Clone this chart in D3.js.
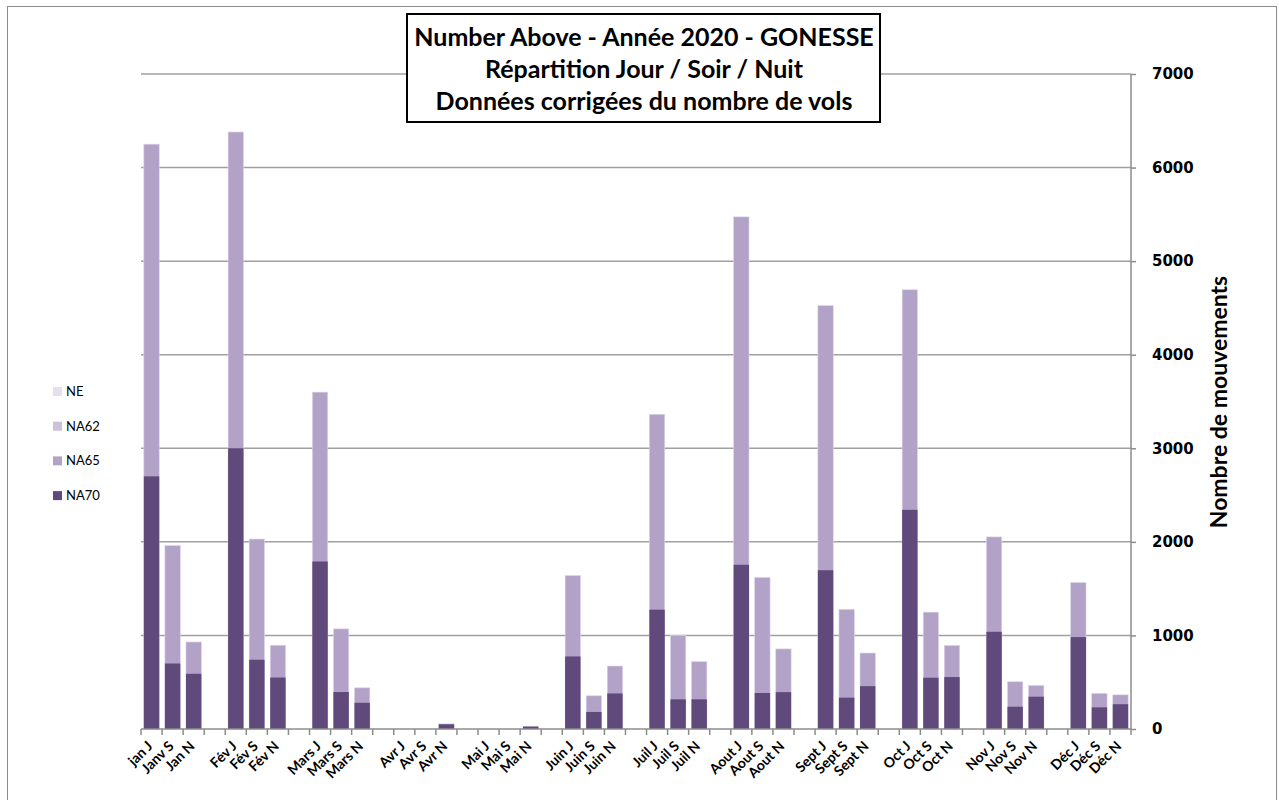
<!DOCTYPE html>
<html><head><meta charset="utf-8">
<script src="https://cdn.jsdelivr.net/npm/d3@7"></script>
<style>body{margin:0;background:#fff}svg{display:block}</style>
</head><body>
<svg id="c" width="1279" height="800"></svg>
<script>
const labels = ["jan J","Janv S","Jan N","","Fév J","Fév S","Fév N","","Mars J","Mars S","Mars N","","Avr J","Avr S","Avr N","","Mai J","Mai S","Mai N","","Juin J","Juin S","Juin N","","Juil J","Juil S","Juil N","","Aout J","Aout S","Aout N","","Sept J","Sept S","Sept N","","Oct J","Oct S","Oct N","","Nov J","Nov S","Nov N","","Déc J","Déc S","Déc N"];
const NA70 = [2700,700,590,null,3000,740,550,null,1790,395,280,null,0,0,50,null,0,0,25,null,775,182,380,null,1275,317,317,null,1755,385,394,null,1697,335,458,null,2342,548,555,null,1039,238,345,null,982,231,265];
const NA65 = [6250,1960,930,null,6380,2030,895,null,3600,1070,440,null,0,0,55,null,0,0,30,null,1640,355,673,null,3363,1000,720,null,5473,1620,856,null,4525,1278,812,null,4694,1249,893,null,2053,505,466,null,1566,381,365];
const yTicks = [0,1000,2000,3000,4000,5000,6000,7000];
const legendNames = ["NE","NA62","NA65","NA70"];
const legendColors = ["#e6e0ec","#ccc1da","#b3a2c7","#604a7b"];
const titleLines = ["Number Above - Année 2020 - GONESSE","Répartition Jour / Soir / Nuit","Données corrigées du nombre de vols"];
const yTitle = "Nombre de mouvements";

const svg = d3.select("#c");
const L = 141, R = 1131, T = 74, B = 729;
const idx = labels.map((d,i)=>i);
const x = d3.scaleBand().domain(idx).range([L,R]).paddingInner(0.27).paddingOuter(0.135);
const y = d3.scaleLinear().domain([0,7000]).range([B,T]);
const step = x.step();

// outer frame
svg.append("rect").attr("x",7.5).attr("y",6.5).attr("width",1269).attr("height",820)
  .attr("fill","none").attr("stroke","#8c8c8c").attr("stroke-width",1);

// gridlines
svg.append("g").selectAll("line").data(yTicks.filter(d=>d>0)).join("line")
  .attr("x1",L).attr("x2",R).attr("y1",d=>y(d)).attr("y2",d=>y(d))
  .attr("stroke","#a0a0a0").attr("stroke-width",1.5);

// bars
const g = svg.append("g");
g.selectAll("rect.n65").data(idx.filter(i=>NA65[i]!=null && NA65[i]>0)).join("rect")
  .attr("x",i=>x(i)).attr("width",x.bandwidth())
  .attr("y",i=>y(NA65[i])).attr("height",i=>B-y(NA65[i]))
  .attr("fill",legendColors[2]).attr("stroke","#ddd5e8").attr("stroke-width",0.6);
g.selectAll("rect.n70").data(idx.filter(i=>NA70[i]!=null && NA70[i]>0)).join("rect")
  .attr("x",i=>x(i)).attr("width",x.bandwidth())
  .attr("y",i=>y(NA70[i])).attr("height",i=>B-y(NA70[i]))
  .attr("fill",legendColors[3]);

// right axis
const ya = svg.append("g").attr("transform",`translate(${R},0)`)
  .call(d3.axisRight(y).tickValues(yTicks).tickFormat(d3.format("d")).tickSize(5).tickPadding(16));
ya.select(".domain").attr("stroke","#8c8c8c").attr("stroke-width",1.5).attr("d",`M0,${T}V${B}`);
ya.selectAll(".tick line").attr("stroke","#8c8c8c").attr("stroke-width",1.5);
ya.selectAll(".tick text").attr("font-family","DejaVu Sans").attr("font-weight","bold")
  .attr("font-size",15).attr("fill","#000");

// x axis
const xa = svg.append("g");
xa.append("line").attr("x1",L).attr("x2",R).attr("y1",B).attr("y2",B).attr("stroke","#8c8c8c").attr("stroke-width",1.5);
xa.selectAll("line.t").data(d3.range(labels.length+1)).join("line")
  .attr("x1",k=>L+k*step).attr("x2",k=>L+k*step).attr("y1",B).attr("y2",B+6)
  .attr("stroke","#8c8c8c").attr("stroke-width",1.5);
xa.selectAll("text").data(idx.filter(i=>labels[i]!=="")).join("text")
  .attr("transform",i=>`translate(${x(i)+x.bandwidth()/2+2},${B+18}) rotate(-45)`)
  .attr("text-anchor","end").attr("font-family","Lato").attr("font-weight","bold")
  .attr("font-size",14).text(i=>labels[i]);

// y title
svg.append("text").attr("transform","translate(1227,402) rotate(-90)")
  .attr("text-anchor","middle").attr("font-family","Lato").attr("font-weight","bold")
  .attr("font-size",23).text(yTitle);

// title box
svg.append("rect").attr("x",407).attr("y",14).attr("width",473).attr("height",108)
  .attr("fill","#fff").attr("stroke","#000").attr("stroke-width",2);
svg.append("g").selectAll("text").data(titleLines).join("text")
  .attr("x",644).attr("y",(d,i)=>46+i*32).attr("text-anchor","middle")
  .attr("font-family","Lato").attr("font-weight","bold").attr("font-size",25).text(d=>d);

// legend
const lg = svg.append("g").selectAll("g").data(legendNames).join("g")
  .attr("transform",(d,i)=>`translate(53,${387+i*34.7})`);
lg.append("rect").attr("width",9).attr("height",9).attr("fill",(d,i)=>legendColors[i]);
lg.append("text").attr("x",13).attr("y",9).attr("font-family","Lato").attr("font-size",13).text(d=>d);
</script>
</body></html>
